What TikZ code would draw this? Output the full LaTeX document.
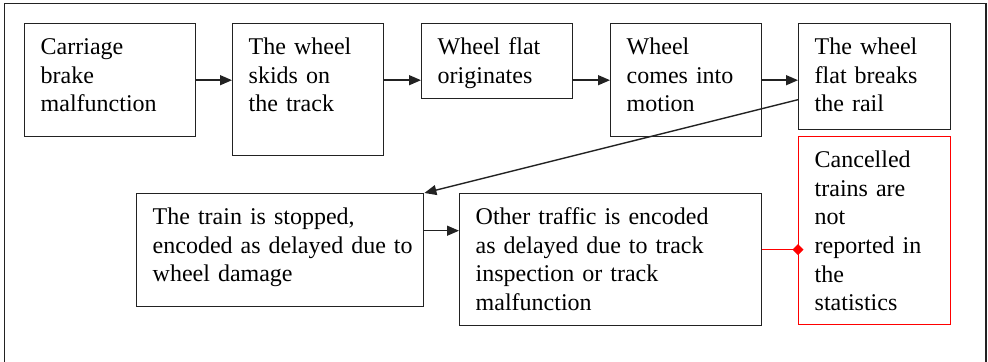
\documentclass[tikz,border=0pt]{standalone}
\usepackage{fontspec}
\setmainfont{Liberation Serif}
\usetikzlibrary{arrows.meta,calc}
\definecolor{ink}{HTML}{222222}
\definecolor{redline}{HTML}{FF0000}
\tikzset{
  px/.style={x=0.5pt,y=-0.5pt},
  box/.style={draw=ink, line width=0.7pt, rectangle, anchor=north west,
    inner xsep=8pt, inner ysep=0pt, align=left, font=\fontsize{12pt}{14.3pt}\selectfont,
    text height=15.5pt},
  flow/.style={draw=ink, line width=0.7pt, -{Triangle[length=6pt,width=5pt]}},
  redbox/.style={box, draw=redline},
  redlink/.style={draw=redline, line width=0.7pt, -{Diamond[length=5.5pt,width=5.5pt]}, shorten >=-2.75pt},
}
\begin{document}
\begin{tikzpicture}[px]
\useasboundingbox (0,0) rectangle (988,362);
\draw[ink, line width=0.7pt] (4.5,364) -- (4.5,3.5) -- (986,3.5) -- (986,364);

% boxes: width w px -> text width = w/2 - 16 pt ; height h px -> text depth = h/2 - 15.5 pt
\node[box, text width=69.5pt, text depth=41pt] (b1) at (24,23) {Carriage\\brake\\malfunction};
\node[box, text width=59.5pt, text depth=50.5pt] (b2) at (232,23) {The wheel\\skids on\\the track};
\node[box, text width=59.5pt, text depth=22pt] (b3) at (421,23) {Wheel flat\\originates};
\node[box, text width=59.5pt, text depth=41pt] (b4) at (610,23) {Wheel\\comes into\\motion};
\node[box, text width=60pt, text depth=37.5pt] (b5) at (798,23) {The wheel\\flat breaks\\the rail};
\node[redbox, text width=60pt, text depth=78.5pt] (r) at (798,136) {Cancelled\\trains are\\not\\reported in\\the\\statistics};
\node[box, text width=127.5pt, text depth=41pt] (b6) at (136,193) {The train is stopped,\\\mbox{encoded as delayed due to}\\wheel damage};
\node[box, text width=135pt, text depth=50.5pt] (b7) at (459,193) {Other traffic is encoded\\as delayed due to track\\inspection or track\\malfunction};

% top row arrows
\draw[flow] (b1.east) -- (b1.east -| b2.west);
\draw[flow] (b1.east -| b2.east) -- (b1.east -| b3.west);
\draw[flow] (b1.east -| b3.east) -- (b1.east -| b4.west);
\draw[flow] (b1.east -| b4.east) -- (b1.east -| b5.west);

% diagonal arrow
\coordinate (s5) at ([yshift=-11.5pt]b5.west);
\draw[flow] (s5) -- (b6.north east);

% bottom arrows
\coordinate (s6) at ([yshift=9.75pt]b6.east);
\draw[flow] (s6) -- (s6 -| b7.west);
\coordinate (s7) at ([yshift=5pt]b7.east);
\draw[redlink] (s7) -- (s7 -| r.west);
\end{tikzpicture}
\end{document}
